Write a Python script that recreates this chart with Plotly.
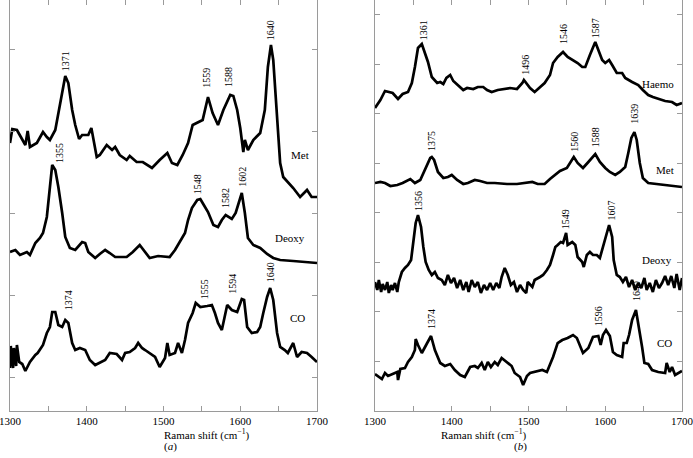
import plotly.graph_objects as go

# ---------------- Panel (a) ----------------
met_a_x = [1300,1303,1309,1320,1323,1326,1335,1343,1348,1352,1359,1365,1372,1376,1381,1385,1390,1394,1402,1406,
           1413,1417,1426,1433,1437,1443,1452,1456,1465,1473,1485,1495,1505,1511,1518,1525,1532,1538,1545,1551,
           1558,1564,1571,1578,1587,1591,1596,1600,1604,1606,1610,1617,1626,1632,1636,1640,1643,1648,1652,1656,
           1662,1669,1678,1687,1693,1700]
met_a_y = [268,282,281,266,280,264,268,279,274,271,281,308,335,328,301,286,272,276,276,283,
           254,256,266,261,264,256,251,255,249,249,243,251,258,248,246,256,268,286,289,291,
           314,298,286,301,316,315,301,283,259,271,261,271,278,301,344,366,351,294,248,234,
           229,223,214,221,214,214]

deoxy_a_x = [1300,1307,1313,1322,1326,1333,1339,1343,1348,1352,1355,1359,1363,1368,1372,1378,1385,1394,1398,1402,
             1411,1417,1424,1430,1437,1452,1460,1469,1476,1482,1493,1502,1508,1515,1521,1528,1532,1537,1544,1548,
             1551,1558,1565,1571,1576,1581,1589,1594,1602,1606,1610,1617,1626,1635,1643,1652,1669,1687,1700]
deoxy_a_y = [159,161,156,159,156,168,173,178,194,221,246,241,224,198,174,163,161,169,168,159,
             153,157,161,158,154,154,159,166,159,153,155,154,154,161,169,178,191,203,211,212,
             208,199,186,184,191,196,192,198,218,198,173,166,163,157,153,151,150,149,148]

co_a_x = [1300,1301,1304,1305,1308,1309,1312,1316,1320,1326,1333,1336,1343,1348,1352,1355,1359,1363,1368,1372,
          1376,1381,1385,1391,1398,1404,1411,1417,1424,1430,1439,1446,1450,1456,1463,1467,1472,1476,1482,1489,
          1495,1502,1505,1508,1515,1519,1524,1528,1532,1538,1542,1548,1557,1563,1567,1571,1576,1580,1583,1589,
          1596,1602,1605,1609,1615,1622,1626,1630,1635,1639,1643,1648,1652,1658,1662,1669,1674,1680,1687,1693,1700]
co_a_y = [43,65,43,63,45,66,49,47,40,49,56,58,66,78,84,99,99,86,84,91,
          88,68,61,63,61,51,46,48,51,58,57,51,58,59,63,68,63,61,58,54,
          44,53,68,56,58,68,58,71,88,98,108,104,105,106,98,88,81,94,106,101,
          99,112,111,84,78,79,84,98,114,123,111,78,64,61,58,68,54,59,58,54,49]

# ---------------- Panel (b) ----------------
haemo_b_x = [1300,1307,1313,1320,1323,1330,1336,1343,1348,1352,1356,1361,1365,1369,1374,1381,1385,1389,1393,1398,
             1402,1408,1415,1420,1428,1434,1441,1446,1452,1460,1469,1476,1485,1492,1494,1499,1502,1508,1515,1521,
             1528,1532,1538,1545,1551,1558,1564,1570,1574,1580,1587,1591,1596,1600,1605,1609,1615,1622,1626,1635,
             1643,1649,1656,1662,1669,1678,1687,1693,1700]
haemo_b_y = [303,311,320,319,318,312,317,319,328,344,363,367,358,349,334,328,329,327,333,336,
             330,326,321,323,322,324,324,321,319,321,322,323,322,328,331,326,323,319,324,328,
             336,348,354,359,354,351,348,344,344,356,369,361,351,348,351,346,338,338,333,329,
             326,321,316,314,312,310,309,306,308]

met_b_x = [1300,1307,1313,1320,1329,1336,1346,1352,1359,1365,1372,1374,1377,1382,1389,1395,1400,1407,1415,1421,
           1430,1437,1446,1456,1472,1485,1495,1505,1512,1521,1528,1535,1541,1550,1554,1559,1564,1571,1578,1587,
           1593,1600,1606,1613,1619,1626,1630,1634,1638,1641,1645,1649,1656,1669,1687,1700]
met_b_y = [228,229,228,225,226,228,232,228,231,241,253,254,251,239,233,234,236,231,227,228,
           231,230,228,228,227,227,228,229,227,227,232,236,240,243,248,254,248,243,249,257,
           249,243,239,236,239,244,258,273,279,271,248,233,228,227,225,224]

deoxy_b_x = [1300,1303,1305,1308,1310,1313,1316,1318,1321,1323,1326,1329,1331,1335,1339,1343,1347,1350,1353,1356,
             1360,1363,1366,1370,1374,1378,1382,1387,1391,1395,1399,1403,1407,1411,1415,1419,1422,1426,1430,1434,
             1438,1442,1446,1450,1454,1458,1462,1465,1469,1473,1477,1481,1485,1489,1493,1497,1499,1505,1508,1515,
             1519,1524,1528,1532,1535,1538,1542,1545,1549,1551,1557,1561,1564,1570,1572,1576,1580,1584,1589,1593,
             1597,1602,1605,1609,1611,1615,1619,1623,1627,1631,1635,1639,1643,1647,1651,1654,1658,1662,1666,1670,
             1674,1678,1682,1686,1690,1693,1697,1700]
deoxy_b_y = [129,121,131,119,127,121,129,118,126,121,128,119,129,139,143,146,151,171,188,196,
             184,164,149,141,136,139,133,131,126,136,128,133,123,131,121,129,119,131,124,129,
             118,126,121,128,121,128,123,134,143,136,126,129,119,126,121,118,129,124,131,134,
             136,141,146,156,164,166,169,168,178,166,169,166,154,149,144,156,159,156,156,153,
             164,178,186,174,151,136,134,129,134,124,131,121,128,123,133,121,128,119,131,123,
             128,135,126,135,123,137,121,133]

co_b_x = [1300,1309,1313,1317,1329,1330,1333,1339,1343,1348,1352,1353,1356,1361,1368,1373,1378,1385,1391,1398,
          1404,1411,1417,1424,1430,1434,1439,1443,1447,1451,1456,1460,1465,1472,1478,1482,1489,1493,1498,1502,
          1508,1518,1524,1528,1532,1538,1544,1551,1558,1563,1567,1571,1578,1584,1591,1594,1597,1601,1606,1610,
          1615,1622,1624,1628,1631,1635,1640,1643,1648,1651,1656,1661,1669,1678,1680,1684,1687,1691,1695,1700]
co_b_y = [37,32,38,35,39,31,42,43,49,54,61,72,66,58,68,75,61,48,45,47,
          41,36,34,44,45,43,48,41,49,44,49,46,53,49,45,38,34,26,35,38,
          39,41,39,46,54,68,71,73,76,73,66,58,63,74,75,66,76,81,75,59,
          56,54,68,68,76,91,101,88,64,48,47,41,39,38,48,39,44,36,38,40]

# ---------------- Labels ----------------
peak_a_text = ["1371","1559","1588","1640","1355","1548","1582","1602","1374","1555","1594","1640"]
peak_a_x    = [1372,1555,1584,1639,1364,1544,1580,1602,1376,1553,1589,1639]
peak_a_y    = [350,333,334,381,258,227,213,234,111,122,127,139]
name_a_text = ["Met","Deoxy","CO"]
name_a_x    = [1678,1665,1675]
name_a_y    = [256,173,93]

peak_b_text = ["1361","1496","1546","1587","1375","1560","1588","1639","1356","1549","1607","1374","1596","1640"]
peak_b_x    = [1363,1495,1545,1587,1373,1559,1587,1637,1356,1548,1607,1373,1591,1640]
peak_b_y    = [381,346,377,383,270,269,274,297,210,192,200,92,95,120]
name_b_text = ["Haemo","Met","Deoxy","CO"]
name_b_x    = [1669,1678,1667,1677]
name_b_y    = [327,241,151,68]

x_ticks = [1300,1400,1500,1600,1700]

SERIF = "Liberation Serif, Times New Roman, serif"
AXC = "#9a9a9a"

fig = go.Figure()
line = dict(color="black", width=2.7)
for xs, ys in [(met_a_x, met_a_y), (deoxy_a_x, deoxy_a_y), (co_a_x, co_a_y)]:
    fig.add_trace(go.Scatter(x=xs, y=ys, mode="lines", line=line, showlegend=False,
                             xaxis="x", yaxis="y", hoverinfo="skip"))
for xs, ys in [(haemo_b_x, haemo_b_y), (met_b_x, met_b_y), (deoxy_b_x, deoxy_b_y), (co_b_x, co_b_y)]:
    fig.add_trace(go.Scatter(x=xs, y=ys, mode="lines", line=line, showlegend=False,
                             xaxis="x2", yaxis="y2", hoverinfo="skip"))

annots = []
for t, x, y in zip(peak_a_text, peak_a_x, peak_a_y):
    annots.append(dict(x=x, y=y, xref="x", yref="y", text=t, textangle=-90, showarrow=False,
                       borderpad=0, font=dict(family=SERIF, size=10, color="black")))
for t, x, y in zip(name_a_text, name_a_x, name_a_y):
    annots.append(dict(x=x, y=y, xref="x", yref="y", text=t, showarrow=False,
                       font=dict(family=SERIF, size=11, color="black")))
for t, x, y in zip(peak_b_text, peak_b_x, peak_b_y):
    annots.append(dict(x=x, y=y, xref="x2", yref="y2", text=t, textangle=-90, showarrow=False,
                       borderpad=0, font=dict(family=SERIF, size=10, color="black")))
for t, x, y in zip(name_b_text, name_b_x, name_b_y):
    annots.append(dict(x=x, y=y, xref="x2", yref="y2", text=t, showarrow=False,
                       font=dict(family=SERIF, size=11, color="black")))

da = [10/693, 317/693]
db = [375/693, 682/693]
for dom, lab in [(da, "a"), (db, "b")]:
    cx = (dom[0] + dom[1]) / 2
    annots.append(dict(x=cx, y=1-443/458, xref="paper", yref="paper", showarrow=False,
                       text="Raman shift (cm<sup>−1</sup>)", borderpad=0,
                       font=dict(family=SERIF, size=11, color="black")))
    annots.append(dict(x=cx, y=1-454/458, xref="paper", yref="paper", showarrow=False,
                       text="(<i>%s</i>)" % lab, borderpad=0,
                       font=dict(family=SERIF, size=11, color="black")))

xcommon = dict(range=[1300, 1700], tickmode="array", tickvals=x_ticks, ticks="inside",
               ticklen=5, tickcolor=AXC, showline=True, linecolor=AXC, linewidth=1,
               mirror="ticks", showgrid=False, zeroline=False, automargin=False,
               ticklabeloverflow="allow",
               minor=dict(dtick=50, tick0=1300, ticks="inside", ticklen=5, tickcolor=AXC, showgrid=False),
               tickfont=dict(family=SERIF, size=11, color="black"))
ydom = [1-411/458, 1.0]

fig.update_layout(
    width=693, height=458,
    margin=dict(l=0, r=0, t=0, b=0, autoexpand=False),
    paper_bgcolor="white", plot_bgcolor="white",
    xaxis=dict(domain=da, anchor="y", **xcommon),
    xaxis2=dict(domain=db, anchor="y2", **xcommon),
    yaxis=dict(domain=ydom, anchor="x", range=[0, 411], tick0=33.5, dtick=82, automargin=False,
               ticks="inside", ticklen=5, tickcolor=AXC, showticklabels=False,
               showline=True, linecolor=AXC, mirror="ticks", showgrid=False, zeroline=False),
    yaxis2=dict(domain=ydom, anchor="x2", range=[0, 411], tick0=50, dtick=49.5, automargin=False,
                ticks="inside", ticklen=5, tickcolor=AXC, showticklabels=False,
                showline=True, linecolor=AXC, mirror="ticks", showgrid=False, zeroline=False),
    annotations=annots,
)

fig.write_html("out.html", config={"displayModeBar": False})

# remove the browser's default page margin so the figure sits at the window origin
with open("out.html", "r", encoding="utf-8") as f:
    html = f.read()
html = html.replace("<head>", "<head><style>html,body{margin:0;padding:0;overflow:hidden;}</style>", 1)
with open("out.html", "w", encoding="utf-8") as f:
    f.write(html)
